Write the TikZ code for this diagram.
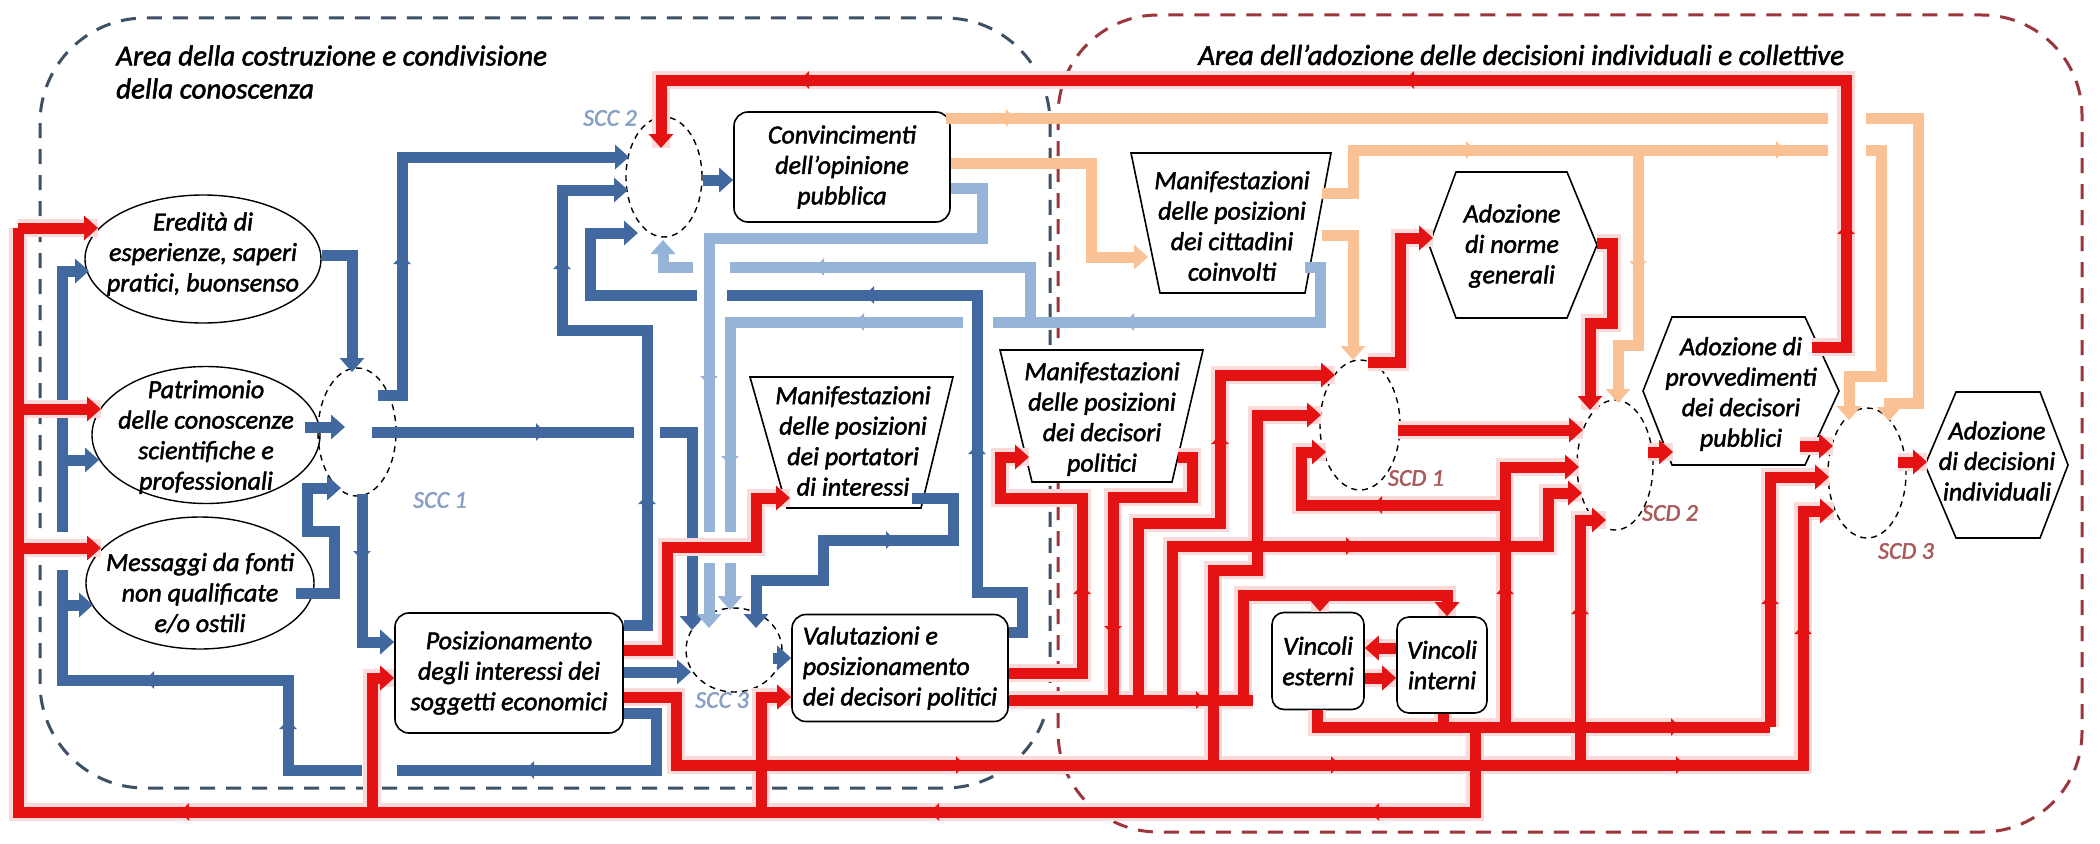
\documentclass[tikz,border=0pt]{standalone}
\usepackage{fontspec}
\setmainfont{Carlito}[ItalicFeatures={FakeBold=1.8}]
\usetikzlibrary{arrows.meta,shapes.geometric,calc}
\definecolor{bluec}{RGB}{66,104,160}
\definecolor{lbluec}{RGB}{150,180,215}
\definecolor{tanc}{RGB}{249,193,148}
\definecolor{redc}{RGB}{228,18,18}
\definecolor{glowc}{RGB}{253,218,218}
\definecolor{areab}{RGB}{62,80,100}
\definecolor{arear}{RGB}{155,55,60}
\definecolor{sccc}{RGB}{135,160,195}
\definecolor{scdc}{RGB}{170,90,90}

% all red routes, drawn twice: once as a soft halo, once as the line itself
\newcommand\redroutes{%
  % feedback from the constraint boxes down to the bottom return line
  \draw[rd] (vest.south -| 1317,0) -- (1317,727) -- (1770,727);
  \draw[rd,tip] (1770,727) -- (1770,477) -- (1829,477);
  \draw[rd] (vint.south -| 1443,0) -- (1443,727);
  \draw[rd] (1475,727) -- (1475,812) -- (18,812) -- (18,228);
  \draw[rd,tip] (18,228) -- (98,228);
  \draw[rd,tip] (18,409) -- (101,409);
  \draw[rd,tip] (18,548) -- (101,548);
  \draw[rd,tip] (372,812) -- (372,678) -- (posiz.west |- 0,678);
  \draw[rd,tip] (761,812) -- (761,697) -- (valut.west |- 0,697);
  % from the economic subjects
  \draw[rd,tip] (posiz.east |- 0,650) -- (667,650) -- (667,547) -- (756,547) -- (756,498) -- (790,498);
  \draw[rd,tip] (posiz.east |- 0,697) -- (676,697) -- (676,765) -- (1803,765) -- (1803,511) -- (1834,511);
  % from the political decision makers
  \draw[rd,tip] (valut.east |- 0,673) -- (1082,673) -- (1082,498) -- (1000,498) -- (1000,457) -- (1029,457);
  \draw[rd] (valut.east |- 0,700) -- (1253,700);
  \draw[rd] (1178,457) -- (1192,457) -- (1192,497) -- (1113,497) -- (1113,700);
  \draw[rd,tip] (1138,700) -- (1138,523) -- (1220,523) -- (1220,375) -- (1335,375);
  \draw[rd,tip] (1213,765) -- (1213,570) -- (1257,570) -- (1257,415) -- (1321,415);
  \draw[rd,tip] (1172,700) -- (1172,546) -- (1548,546) -- (1548,493) -- (1582,493);
  \draw[rd,tip] (1243,700) -- (1243,595) -- (1447,595) -- (vint.north -| 1447,0);
  \draw[rd,tip] (1320,595) -- (vest.north -| 1320,0);
  \draw[rd,tip] (vint.west |- 0,648) -- (vest.east |- 0,648);
  \draw[rd,tip] (vest.east |- 0,678) -- (vint.west |- 0,678);
  \draw[rd,tip] (1505,727) -- (1505,467) -- (1579,467);
  \draw[rd,tip] (1505,505) -- (1301,505) -- (1301,452) -- (1326,452);
  \draw[rd,tip] (1580,765) -- (1580,520) -- (1606,520);
  % decision hubs
  \draw[rd,tip] (1368,362) -- (1400,362) -- (1400,238) -- (1433,238);
  \draw[rd,tip] (1597,243) -- (1612,243) -- (1612,323) -- (1590,323) -- (1590,410);
  \draw[rd,tip] (1398,430) -- (1583,430);
  \draw[rd,tip] (1648,452) -- (1673,452);
  \draw[rd,tip] (1800,446) -- (1833,446);
  \draw[rd,tip] (1898,462) -- (1927,462);
  \draw[rd,tip] (1812,347) -- (1846,347) -- (1846,80) -- (661,80) -- (661,148);
}

\begin{document}
\begin{tikzpicture}[x=1pt,y=-1pt,
  txt/.style={font=\fontsize{26}{30.5}\selectfont\itshape, align=center, inner sep=0pt, text=black},
  ttl/.style={font=\fontsize{29}{33}\selectfont\itshape, inner sep=0pt, text=black},
  lbl/.style={font=\fontsize{24}{28}\selectfont\itshape, inner sep=0pt},
  ell/.style={draw, line width=1.4pt, ellipse, fill=white, inner sep=0pt},
  hub/.style={draw, line width=1.4pt, ellipse, dash pattern=on 6pt off 5pt, inner sep=0pt},
  rbox/.style={draw, line width=1.6pt, rectangle, rounded corners=14pt, fill=white,
    inner sep=0pt, font=\fontsize{26}{30.5}\selectfont\itshape, align=center},
  shp/.style={draw, line width=1.6pt, fill=white, line join=miter},
  tip/.style={-{Triangle[width=24pt,length=14pt]}},
  mid/.style={-{Triangle[width=17pt,length=9pt]}},
  conn/.style={line width=11pt, line join=miter, line cap=butt},
  bl/.style={conn, draw=bluec},
  lb/.style={conn, draw=lbluec},
  tn/.style={conn, draw=tanc},
  rd/.style={conn, draw=redc},
  area/.style={line width=3pt, dash pattern=on 15pt off 11pt},
]
\fill[white] (0,0) rectangle (2100,843);
\useasboundingbox (0,0) rectangle (2100,843);

% the two areas
\draw[area, areab, rounded corners=105pt] (40,18) rectangle (1050,788);
\draw[area, arear, rounded corners=100pt] (1058,15) rectangle (2082,832);
\node[ttl, align=left, anchor=west] (t1) at (116,72) {Area della costruzione e condivisione\\della conoscenza};
\node[ttl, anchor=west] (t2) at (1198,55) {Area dell’adozione delle decisioni individuali e collettive};

% sources of knowledge
\node[ell, minimum width=236pt, minimum height=128pt] (erd) at (203,259) {};
\node[txt] (erdt) at (203,254) {Eredità di\\esperienze, saperi\\pratici, buonsenso};
\node[ell, minimum width=228pt, minimum height=137pt] (pat) at (206,435) {};
\node[txt] (patt) at (206,437) {Patrimonio\\delle conoscenze\\scientifiche e\\professionali};
\node[ell, minimum width=228pt, minimum height=132pt] (mes) at (200,583) {};
\node[txt] (mest) at (200,593) {Messaggi da fonti\\non qualificate\\e/o ostili};

% hubs
\node[hub, minimum width=78pt, minimum height=128pt] (scc1) at (357,432) {};
\node[hub, minimum width=76pt, minimum height=120pt] (scc2) at (664,177) {};
\node[hub, minimum width=96pt, minimum height=84pt] (scc3) at (734,650) {};
\node[hub, minimum width=80pt, minimum height=130pt] (scd1) at (1360,425) {};
\node[hub, minimum width=76pt, minimum height=130pt] (scd2) at (1615,465) {};
\node[hub, minimum width=78pt, minimum height=130pt] (scd3) at (1867,473) {};
\node[lbl, text=sccc] (l1) at (440,500) {SCC 1};
\node[lbl, text=sccc] (l2) at (610,118) {SCC 2};
\node[lbl, text=sccc] (l3) at (722,700) {SCC 3};
\node[lbl, text=scdc] (d1) at (1416,478) {SCD 1};
\node[lbl, text=scdc] (d2) at (1670,513) {SCD 2};
\node[lbl, text=scdc] (d3) at (1906,551) {SCD 3};

% rounded boxes
\node[rbox, minimum width=216pt, minimum height=110pt] (conv) at (842,167) {Convincimenti\\dell’opinione\\pubblica};
\node[rbox, minimum width=228pt, minimum height=120pt] (posiz) at (509,673) {Posizionamento\\degli interessi dei\\soggetti economici};
\node[rbox, minimum width=216pt, minimum height=107pt, align=left] (valut) at (900,668) {Valutazioni e\\posizionamento\\dei decisori politici};
\node[rbox, minimum width=92pt, minimum height=97pt, rounded corners=12pt] (vest) at (1318,661) {Vincoli\\esterni};
\node[rbox, minimum width=90pt, minimum height=96pt, rounded corners=12pt] (vint) at (1442,665) {Vincoli\\interni};

% manifestations (trapezia)
\draw[shp] (1131,153) -- (1331,153) -- (1305,293) -- (1160,293) -- cycle;
\node[txt] (citt) at (1232,226) {Manifestazioni\\delle posizioni\\dei cittadini\\coinvolti};
\draw[shp] (750,377) -- (953,377) -- (921,508) -- (787,508) -- cycle;
\node[txt] (port) at (853,441) {Manifestazioni\\delle posizioni\\dei portatori\\di interessi};
\draw[shp] (1000,350) -- (1203,350) -- (1172,482) -- (1032,482) -- cycle;
\node[txt] (deci) at (1102,419) {Manifestazioni\\delle posizioni\\dei decisori\\politici};

% adoptions (hexagons)
\draw[shp] (1429,245) -- (1456,172) -- (1567,172) -- (1597,245) -- (1567,318) -- (1456,318) -- cycle;
\node[txt] (norme) at (1512,246) {Adozione\\di norme\\generali};
\draw[shp] (1643,391) -- (1672,317) -- (1805,317) -- (1839,391) -- (1805,465) -- (1672,465) -- cycle;
\node[txt] (provv) at (1741,394) {Adozione di\\provvedimenti\\dei decisori\\pubblici};
\draw[shp] (1925,465) -- (1956,392) -- (2040,392) -- (2068,465) -- (2040,538) -- (1956,538) -- cycle;
\node[txt] (indiv) at (1997,461) {Adozione\\di decisioni\\individuali};

% ---- blue: knowledge flows
\draw[bl,tip] (erd.east |- 0,255) -- (352,255) -- (352,372);
\draw[bl,tip] (305,427) -- (345,427);
\draw[bl,tip] (296,593) -- (334,593) -- (334,531) -- (307,531) -- (307,488) -- (341,488);
\draw[bl,tip] (362,494) -- (362,642) -- (posiz.west |- 0,642);
\draw[bl,tip] (378,395) -- (402,395) -- (402,157) -- (629,157);
\draw[bl] (372,432) -- (634,432);
\draw[bl,tip] (660,432) -- (692,432) -- (692,630);
\draw[bl,tip] (posiz.east |- 0,625) -- (647,625) -- (647,330) -- (562,330) -- (562,190) -- (628,190);
\draw[bl] (valut.east |- 0,632) -- (1022,632) -- (1022,592) -- (977,592) -- (977,295) -- (727,295);
\draw[bl,tip] (697,295) -- (590,295) -- (590,233) -- (638,233);
\draw[bl,tip] (scc2.east |- 0,180) -- (conv.west |- 0,180);
\draw[bl,tip] (posiz.east |- 0,672) -- (691,672);
\draw[bl,tip] (773,658) -- (valut.west |- 0,658);
\draw[bl,tip] (912,498) -- (953,498) -- (953,540) -- (823,540) -- (823,580) -- (756,580) -- (756,628);
\draw[bl] (posiz.east |- 0,713) -- (656,713) -- (656,770) -- (397,770);
\draw[bl] (362,770) -- (288,770) -- (288,680) -- (62,680) -- (62,570);
\draw[bl,tip] (62,532) -- (62,271) -- (89,271);
\draw[bl,tip] (62,460) -- (99,460);
\draw[bl,tip] (62,605) -- (93,605);
% direction marks along the blue lines
\draw[bl,mid] (530,432) -- (545,432);
\draw[bl,mid] (402,270) -- (402,255);
\draw[bl,mid] (362,545) -- (362,560);
\draw[bl,mid] (540,770) -- (525,770);
\draw[bl,mid] (288,735) -- (288,720);
\draw[bl,mid] (160,680) -- (145,680);
\draw[bl,mid] (880,295) -- (865,295);
\draw[bl,mid] (977,460) -- (977,445);
\draw[bl,mid] (647,510) -- (647,495);
\draw[bl,mid] (562,275) -- (562,260);
\draw[bl,mid] (880,540) -- (895,540);

% ---- light blue: public opinion and citizens back to the hubs
\draw[lb] (conv.east |- 0,188) -- (982,188) -- (982,238) -- (709,238) -- (709,532);
\draw[lb,tip] (709,563) -- (709,628);
\draw[lb] (1305,267) -- (1320,267) -- (1320,322) -- (993,322);
\draw[lb] (963,322) -- (730,322) -- (730,532);
\draw[lb,tip] (730,563) -- (730,610);
\draw[lb] (1030,322) -- (1030,267) -- (730,267);
\draw[lb,tip] (693,267) -- (663,267) -- (663,240);
\draw[lb,mid] (1140,322) -- (1125,322);
\draw[lb,mid] (830,267) -- (815,267);
\draw[lb,mid] (870,322) -- (855,322);
\draw[lb,mid] (709,370) -- (709,385);
\draw[lb,mid] (730,450) -- (730,465);

% ---- tan: opinion towards decisions
\draw[tn] (946,118) -- (1828,118);
\draw[tn,tip] (1866,118) -- (1918,118) -- (1918,403) -- (1889,403) -- (1889,421);
\draw[tn,tip] (conv.east |- 0,163) -- (1091,163) -- (1091,257) -- (1148,257);
\draw[tn] (1322,193) -- (1353,193) -- (1353,150) -- (1828,150);
\draw[tn,tip] (1866,150) -- (1881,150) -- (1881,376) -- (1849,376) -- (1849,420);
\draw[tn,tip] (1638,150) -- (1638,345) -- (1618,345) -- (1618,403);
\draw[tn,tip] (1322,235) -- (1353,235) -- (1353,360);
\draw[tn,mid] (1000,118) -- (1015,118);
\draw[tn,mid] (1460,150) -- (1475,150);
\draw[tn,mid] (1770,150) -- (1785,150);
\draw[tn,mid] (1638,255) -- (1638,270);

% ---- red: decisions and their feedback
\begin{scope}[rd/.style={draw=glowc, line width=18pt, line join=miter, line cap=butt}, tip/.style={}]
  \redroutes
\end{scope}
\redroutes
% direction marks along the red lines
\draw[rd,mid] (195,812) -- (180,812);
\draw[rd,mid] (945,812) -- (930,812);
\draw[rd,mid] (1385,812) -- (1370,812);
\draw[rd,mid] (815,80) -- (800,80);
\draw[rd,mid] (1420,80) -- (1405,80);
\draw[rd,mid] (1846,240) -- (1846,225);
\draw[rd,mid] (950,765) -- (965,765);
\draw[rd,mid] (1325,765) -- (1340,765);
\draw[rd,mid] (1670,765) -- (1685,765);
\draw[rd,mid] (1665,727) -- (1680,727);
\draw[rd,mid] (1770,610) -- (1770,595);
\draw[rd,mid] (1388,505) -- (1373,505);
\draw[rd,mid] (1340,546) -- (1355,546);
\draw[rd,mid] (1082,600) -- (1082,585);
\draw[rd,mid] (1113,620) -- (1113,635);
\draw[rd,mid] (1220,450) -- (1220,435);
\draw[rd,mid] (1190,700) -- (1205,700);
\draw[rd,mid] (1580,620) -- (1580,605);
\draw[rd,mid] (1803,640) -- (1803,625);
\draw[rd,mid] (1505,600) -- (1505,585);
\end{tikzpicture}
\end{document}
